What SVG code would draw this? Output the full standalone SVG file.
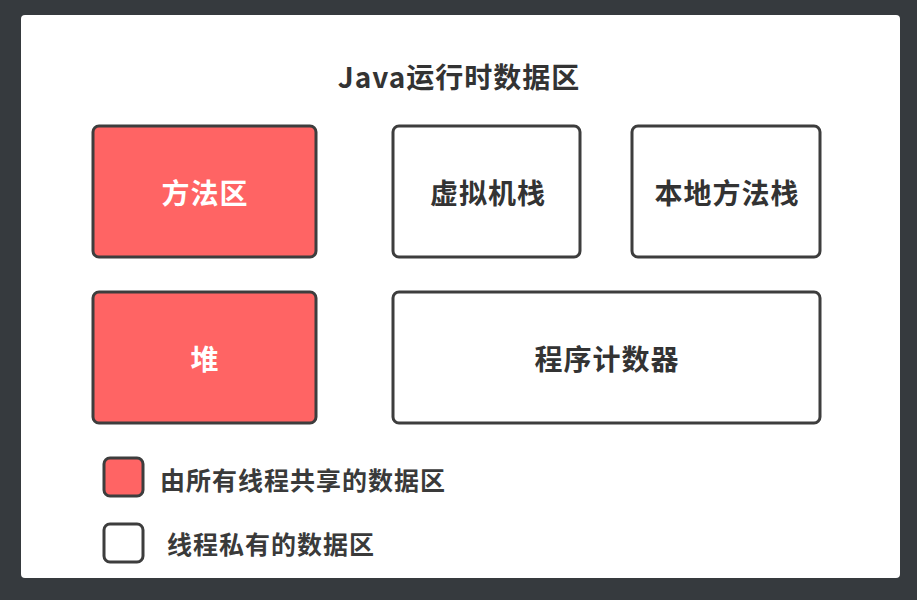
<svg xmlns="http://www.w3.org/2000/svg" width="917" height="600" viewBox="0 0 917 600">
<style>
.box{stroke:#3d3d3d;stroke-width:3}
.red{fill:#ff6464}
.white{fill:#ffffff}
.t{font-family:"Noto Sans CJK SC","Noto Sans",sans-serif;font-weight:bold;text-anchor:middle;dominant-baseline:central}
.big{font-size:28px;letter-spacing:1px}
.dark{fill:#333333}
.light{fill:#ffffff}
.leg{font-family:"Noto Sans CJK SC","Noto Sans",sans-serif;font-weight:bold;font-size:25px;letter-spacing:1px;fill:#3a3a3a;dominant-baseline:central}
</style>
<rect x="0" y="0" width="917" height="600" fill="#363a3e"/>
<rect x="21" y="15" width="879" height="563" rx="4" fill="#ffffff"/>
<text class="t big dark" x="459" y="76">Java运行时数据区</text>
<g id="method-area">
<rect class="box red" x="93" y="126" width="223" height="131" rx="6"/>
<text class="t big light" x="205" y="192">方法区</text>
</g>
<g id="vm-stack">
<rect class="box white" x="393" y="126" width="187" height="131" rx="6"/>
<text class="t big dark" x="488" y="192">虚拟机栈</text>
</g>
<g id="native-stack">
<rect class="box white" x="632" y="126" width="188" height="131" rx="6"/>
<text class="t big dark" x="727" y="192">本地方法栈</text>
</g>
<g id="heap">
<rect class="box red" x="93" y="292" width="223" height="131" rx="6"/>
<text class="t big light" x="205" y="358">堆</text>
</g>
<g id="pc-register">
<rect class="box white" x="393" y="292" width="427" height="131" rx="6"/>
<text class="t big dark" x="607" y="358">程序计数器</text>
</g>
<g id="legend-shared">
<rect class="box red" x="104" y="458" width="39" height="38" rx="6"/>
<text class="leg" x="160" y="479">由所有线程共享的数据区</text>
</g>
<g id="legend-private">
<rect class="box white" x="104" y="524" width="39" height="38" rx="6"/>
<text class="leg" x="167" y="543">线程私有的数据区</text>
</g>
<g id="connectors"></g>
</svg>
